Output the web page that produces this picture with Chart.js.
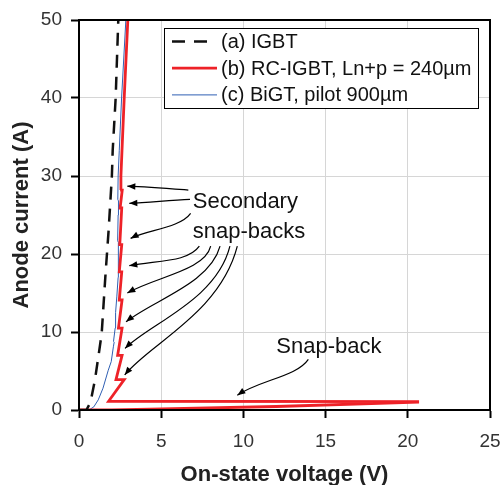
<!DOCTYPE html>
<html>
<head>
<meta charset="utf-8">
<script src="https://cdn.jsdelivr.net/npm/chart.js@4/dist/chart.umd.min.js"></script>
<style>
  html, body { margin: 0; padding: 0; background: #fff; }
  #wrap { width: 501px; height: 485px; }
</style>
</head>
<body>
<div id="wrap"><canvas id="canvas-1" width="501" height="485"></canvas></div>
<script>
// data: [voltage (V), current (A)]
const igbtPoints = [
  [0, 0], [0.45, 0], [0.7, 1.0], [0.97, 3.85], [1.21, 7.3], [1.38, 9.8],
  [1.6, 17], [1.8, 23], [2.0, 30], [2.05, 33.3], [2.23, 40], [2.39, 50],
];

const rcIgbtPoints = [
  [0, 0], [2, 0.02], [4.3, 0.1], [12, 0.45], [20.6, 1.0], [20.6, 1.08], [1.8, 1.12],
  [2.75, 3.9], [2.25, 3.9],
  [2.62, 7.0], [2.35, 7.0],
  [2.62, 10.5], [2.4, 10.5],
  [2.62, 14.1], [2.45, 14.1],
  [2.6, 17.7], [2.45, 17.7],
  [2.6, 21.2], [2.48, 21.2],
  [2.6, 25.9], [2.5, 25.9],
  [2.63, 28.2], [2.5, 28.2],
  [2.55, 30], [2.75, 40], [2.97, 50],
];

const bigtPoints = [
  [0, 0], [0.6, 0], [0.9, 0.4], [1.17, 1.3], [1.46, 2.8], [1.78, 5.1],
  [1.96, 6.2], [2.09, 8.1], [2.14, 8.7], [2.1, 8.8], [2.2, 10.5], [2.25, 12.4],
  [2.2, 12.5], [2.3, 14.5], [2.38, 17], [2.39, 18], [2.4, 21.5], [2.35, 21.7],
  [2.38, 25], [2.4, 26.8], [2.36, 27], [2.38, 30], [2.45, 33.3], [2.59, 40], [2.85, 50],
];

const seriesLabels = [
  "(a) IGBT",
  "(b) RC-IGBT, Ln+p = 240µm",
  "(c) BiGT, pilot 900µm",
];

const xTicks = [0, 5, 10, 15, 20, 25];
const yTicks = [0, 10, 20, 30, 40, 50];

// annotation texts, [x, y] in data units
const notes = [
  { text: "Secondary", at: [6.92, 26.7] },
  { text: "snap-backs", at: [6.92, 22.8] },
  { text: "Snap-back", at: [12.0, 8.1] },
];

// arrows as cubic curves: start, control 1, control 2, tip (data units)
const arrows = [
  [[6.65, 28.2], [5.4, 28.4], [4.2, 28.6], [2.94, 28.7]],
  [[6.75, 27.0], [5.5, 26.9], [4.3, 26.6], [3.06, 26.5]],
  [[6.79, 25.2], [6.14, 23.3], [4.12, 23.1], [3.14, 22.0]],
  [[7.32, 21.0], [6.65, 19.0], [4.93, 19.2], [3.06, 18.5]],
  [[8.01, 21.0], [7.66, 17.9], [4.72, 17.1], [2.94, 15.0]],
  [[8.58, 21.0], [7.97, 16.2], [4.52, 14.1], [2.86, 11.3]],
  [[9.18, 21.0], [8.37, 14.1], [4.32, 11.1], [2.80, 7.9]],
  [[9.63, 21.0], [8.58, 12.4], [4.32, 8.55], [2.78, 4.5]],
  [[13.95, 6.5], [13.24, 4.27], [11.0, 3.85], [9.63, 1.9]],
];

const FONT = "'Liberation Sans', Arial, sans-serif";

function toXY(points) {
  return points.map((d) => ({ x: d[0], y: d[1] }));
}

const seriesStyle = [
  { color: "#111111", width: 2.5, dash: [13, 9] },
  { color: "#ee2228", width: 2.8, dash: [] },
  { color: "#2f5fb3", width: 1, dash: [] },
];

const datasets = [igbtPoints, rcIgbtPoints, bigtPoints].map((pts, i) => ({
  label: seriesLabels[i],
  data: toXY(pts),
  borderColor: seriesStyle[i].color,
  borderWidth: seriesStyle[i].width,
  borderDash: seriesStyle[i].dash,
  pointRadius: 0,
  tension: 0,
  fill: false,
}));

/**
 * Frame, arrows, notes and the boxed legend
 */
const extras = {
  id: "extras",
  afterDatasetsDraw(chart) {
    const { ctx, chartArea: a, scales } = chart;
    const px = (d) => [scales.x.getPixelForValue(d[0]), scales.y.getPixelForValue(d[1])];

    ctx.save();
    // frame
    ctx.strokeStyle = "#000";
    ctx.lineWidth = 2;
    ctx.strokeRect(a.left, a.top, a.right - a.left, a.bottom - a.top);

    // arrows
    ctx.lineWidth = 1.2;
    ctx.fillStyle = "#000";
    arrows.forEach((arr) => {
      const [p0, c1, c2, p3] = arr.map(px);
      ctx.beginPath();
      ctx.moveTo(p0[0], p0[1]);
      ctx.bezierCurveTo(c1[0], c1[1], c2[0], c2[1], p3[0], p3[1]);
      ctx.stroke();
      const ang = Math.atan2(p3[1] - c2[1], p3[0] - c2[0]);
      const len = 8, half = 3.2;
      ctx.beginPath();
      ctx.moveTo(p3[0], p3[1]);
      ctx.lineTo(p3[0] - len * Math.cos(ang) + half * Math.sin(ang), p3[1] - len * Math.sin(ang) - half * Math.cos(ang));
      ctx.lineTo(p3[0] - len * Math.cos(ang) - half * Math.sin(ang), p3[1] - len * Math.sin(ang) + half * Math.cos(ang));
      ctx.closePath();
      ctx.fill();
    });

    // notes
    ctx.font = "22px " + FONT;
    ctx.fillStyle = "#111";
    ctx.textBaseline = "middle";
    ctx.textAlign = "left";
    notes.forEach((n) => {
      const p = px(n.at);
      ctx.fillText(n.text, p[0], p[1]);
    });

    // legend
    const box = { left: 164, top: 28, right: 478, bottom: 108 };
    ctx.fillStyle = "#fff";
    ctx.fillRect(box.left, box.top, box.right - box.left, box.bottom - box.top);
    ctx.strokeStyle = "#000";
    ctx.lineWidth = 1;
    ctx.strokeRect(box.left + 0.5, box.top + 0.5, box.right - box.left, box.bottom - box.top);
    ctx.font = "20px " + FONT;
    seriesLabels.forEach((label, i) => {
      const y = 41.5 + i * 26.7;
      const st = seriesStyle[i];
      ctx.strokeStyle = st.color;
      ctx.lineWidth = st.width;
      ctx.setLineDash(st.dash);
      ctx.beginPath();
      ctx.moveTo(172, y);
      ctx.lineTo(i === 0 ? 210 : 217, y);
      ctx.stroke();
      ctx.setLineDash([]);
      ctx.fillStyle = "#111";
      ctx.fillText(label, 221, y + 1);
    });
    ctx.restore();
  },
};

new Chart(document.getElementById("canvas-1").getContext("2d"), {
  type: "line",
  data: { datasets },
  options: {
    responsive: false,
    animation: false,
    layout: { padding: { top: 20, right: 11, left: 0, bottom: 0 } },
    plugins: { legend: { display: false }, tooltip: { enabled: false } },
    scales: {
      x: {
        type: "linear",
        min: 0,
        max: 25,
        afterBuildTicks: (s) => { s.ticks = xTicks.map((v) => ({ value: v })); },
        afterFit: (s) => {
          s.height = 75;
          s.paddingLeft = 0;
          s.paddingRight = 0;
        },
        grid: { color: "#d6d6d6", tickColor: "#000", tickLength: 8, tickWidth: 2 },
        border: { color: "#000", width: 2 },
        ticks: { color: "#333", font: { family: FONT, size: 19 }, padding: 12 },
        title: {
          display: true,
          text: "On-state voltage (V)",
          color: "#222",
          font: { family: FONT, size: 22, weight: "bold", lineHeight: 1 },
          padding: { top: 0, bottom: -1 },
        },
      },
      y: {
        type: "linear",
        min: 0,
        max: 50,
        afterBuildTicks: (s) => { s.ticks = yTicks.map((v) => ({ value: v })); },
        afterFit: (s) => {
          s.width = 79;
          s.paddingTop = 0;
          s.paddingBottom = 0;
        },
        grid: { color: "#d6d6d6", tickColor: "#000", tickLength: 8, tickWidth: 2 },
        border: { color: "#000", width: 2 },
        ticks: { color: "#333", font: { family: FONT, size: 19 }, padding: 9 },
        title: {
          display: true,
          text: "Anode current (A)",
          color: "#222",
          font: { family: FONT, size: 22, weight: "bold", lineHeight: 1 },
          padding: { top: 11, bottom: 0 },
        },
      },
    },
  },
  plugins: [extras],
});
</script>
</body>
</html>
